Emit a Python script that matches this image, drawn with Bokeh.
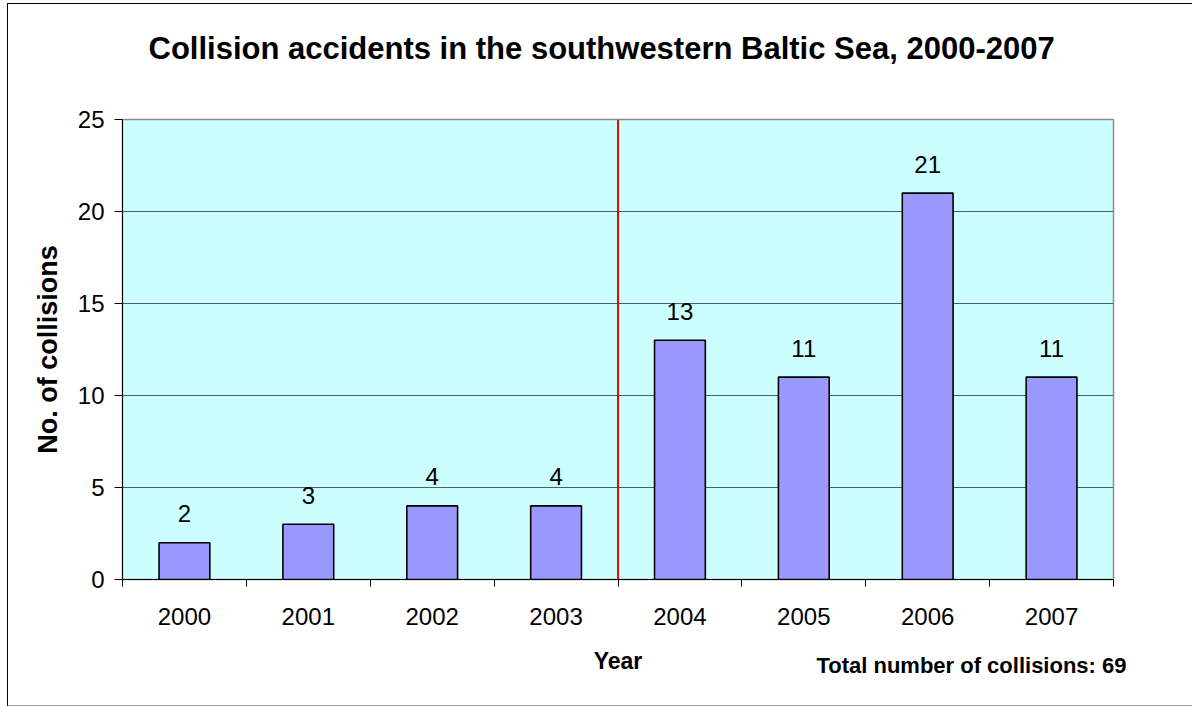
from bokeh.plotting import figure
from bokeh.models import Range1d, FixedTicker, Span, Label, ColumnDataSource
from bokeh.core.properties import value
from bokeh.embed import file_html
from bokeh.resources import INLINE

years = ["2000", "2001", "2002", "2003", "2004", "2005", "2006", "2007"]
collisions = [2, 3, 4, 4, 13, 11, 21, 11]
y_ticks = [0, 5, 10, 15, 20, 25]
title_text = "Collision accidents in the southwestern Baltic Sea, 2000-2007"
y_label = "No. of collisions"
x_label = "Year"
total_text = "Total number of collisions: " + str(sum(collisions))
divider_year = "2004"

FONT = "Liberation Sans"
n = len(years)
centers = [i + 0.5 for i in range(n)]
bounds = list(range(n + 1))

p = figure(frame_width=991, frame_height=460,
           min_border_left=122, min_border_right=79,
           min_border_top=119, min_border_bottom=127,
           x_range=Range1d(0, n), y_range=Range1d(0, 25),
           output_backend="svg", toolbar_location=None)
p.styles = {"background": "linear-gradient(#000,#000) 7px 3px / 1px 703px no-repeat, "
                          "linear-gradient(#000,#000) 7px 3px / 1185px 1px no-repeat, "
                          "linear-gradient(#A0A0A0,#A0A0A0) 7px 705px / 1185px 1px no-repeat, white"}
p.background_fill_color = "#CCFFFF"
p.border_fill_alpha = 0
p.outline_line_color = "#8C8C8C"
p.outline_line_width = 1.5

src = ColumnDataSource(dict(x=centers, top=collisions,
                            lab=[str(v) for v in collisions]))
p.vbar(x="x", top="top", width=0.41, source=src,
       fill_color="#9999FF", line_color="black", line_width=1.6)
p.text(x="x", y="top", text="lab", source=src, text_align="center",
       text_baseline="alphabetic", y_offset=-29,
       text_font=value(FONT), text_font_size="24px", text_color="black")

p.add_layout(Span(location=years.index(divider_year), dimension="height",
                  line_color="#FF0000", line_width=2))

# x axis: labels at centers, tick marks at category boundaries
xa = p.xaxis[0]
xa.ticker = FixedTicker(ticks=centers, minor_ticks=bounds)
xa.major_label_overrides = {c: y for c, y in zip(centers, years)}
xa.major_tick_out = 0
xa.major_tick_in = 0
xa.minor_tick_out = 7
xa.minor_tick_in = 0
xa.minor_tick_line_color = "black"
xa.axis_line_color = "black"
xa.major_label_text_font = FONT
xa.major_label_text_font_size = "24px"
xa.major_label_text_color = "black"
xa.major_label_standoff = 21
xa.axis_label = x_label
xa.axis_label_text_font = FONT
xa.axis_label_text_font_size = "23px"
xa.axis_label_text_font_style = "bold"
xa.axis_label_text_color = "black"
xa.axis_label_standoff = 20

ya = p.yaxis[0]
ya.ticker = FixedTicker(ticks=y_ticks)
ya.major_tick_out = 8
ya.major_tick_in = 0
ya.minor_tick_out = 0
ya.minor_tick_in = 0
ya.major_tick_line_color = "black"
ya.axis_line_color = "black"
ya.major_label_text_font = FONT
ya.major_label_text_font_size = "24px"
ya.major_label_text_color = "black"
ya.major_label_standoff = 10
ya.axis_label = y_label
ya.axis_label_text_font = FONT
ya.axis_label_text_font_size = "27px"
ya.axis_label_text_font_style = "bold"
ya.axis_label_text_color = "black"
ya.axis_label_standoff = 12

p.xgrid.visible = False
p.ygrid.ticker = FixedTicker(ticks=y_ticks[1:-1])
p.ygrid.grid_line_color = "#4F5F5F"
p.ygrid.grid_line_width = 1

p.title.text = ""
p.add_layout(Label(x=26, y=71, x_units="screen", y_units="screen",
                   text=title_text, text_font=FONT, text_font_style="bold",
                   text_font_size="31px", text_align="left",
                   text_baseline="alphabetic", text_color="black"), "above")
p.add_layout(Label(x=1004, y=36, x_units="screen", y_units="screen",
                   text=total_text, text_font=FONT, text_font_style="bold",
                   text_font_size="22px", text_align="right",
                   text_baseline="alphabetic", text_color="black"), "below")

open("out.html", "w").write(file_html(p, INLINE))
